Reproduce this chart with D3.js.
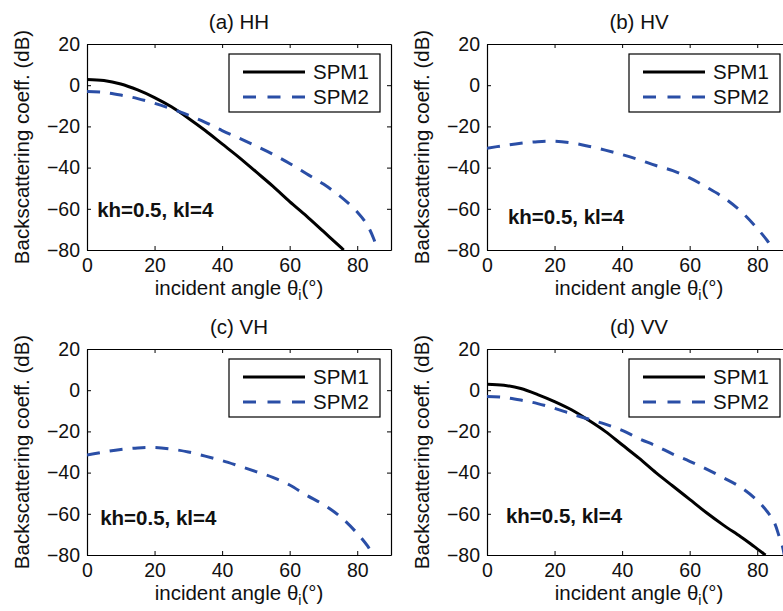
<!DOCTYPE html>
<html>
<head>
<meta charset="utf-8">
<script src="https://cdn.jsdelivr.net/npm/d3@7"></script>
<style>
  body { margin: 0; background: #fff; }
  svg { display: block; font-family: "Liberation Sans", Arial, sans-serif; }
</style>
</head>
<body>
<div id="chart"></div>
<script>
// [incident angle (deg), backscattering coeff (dB)]
const hhSPM1 = [[0,2.8],[5,2.3],[10,0.6],[15,-2.3],[20,-6],[25,-10.5],[30,-16],[35,-22],[40,-28.5],
  [45,-35],[50,-42],[55,-49],[60,-56.5],[65,-63.5],[70,-71],[75,-78.5],[76,-80]];
const hhSPM2 = [[0,-3],[5,-3.5],[10,-4.8],[15,-6.5],[20,-8.8],[25,-11.5],[30,-14.5],[35,-18],[40,-22],
  [45,-25.7],[50,-29.5],[55,-33.5],[60,-38],[65,-43],[70,-48],[75,-54],[80,-61.5],[83,-68],[85,-75],[86,-80]];
const hvSPM2 = [[0,-30.6],[5,-29.3],[10,-28.2],[15,-27.4],[20,-27.2],[25,-28],[30,-29.6],[35,-31.5],[40,-33.7],
  [45,-36.2],[50,-39],[55,-41.5],[60,-45],[65,-49.5],[70,-54.5],[75,-61],[80,-69.5],[83,-75.5],[85,-80]];
const vhSPM2 = [[0,-31.5],[5,-30],[10,-28.8],[15,-28],[20,-27.8],[25,-28.6],[30,-30],[35,-32],[40,-34.2],
  [45,-36.8],[50,-39.5],[55,-42.3],[60,-46],[65,-51],[70,-55.5],[75,-61.4],[80,-69.5],[83,-75.5],[84.7,-80]];
const vvSPM1 = [[0,2.9],[5,2.4],[10,0.8],[15,-2.1],[20,-5.5],[25,-9.5],[30,-14.5],[35,-20],[40,-26.5],
  [45,-33],[50,-40],[55,-46.5],[60,-53],[65,-59.5],[70,-65.5],[75,-71],[78,-74.5],[80,-77],[82,-79.5],[82.5,-80]];
const vvSPM2 = [[0,-3],[5,-3.5],[10,-4.8],[15,-6.5],[20,-8.8],[25,-11.5],[30,-14],[35,-16.5],[40,-19.5],
  [45,-23.5],[50,-27],[55,-31],[60,-34.5],[65,-38.3],[70,-42.5],[75,-47],[80,-53.5],[83,-59],[85,-64],[86.5,-71],[87.5,-76],[88,-80]];

const titles = ["(a) HH", "(b) HV", "(c) VH", "(d) VV"];
const seriesNames = ["SPM1", "SPM2"];
const xTicks = [0, 20, 40, 60, 80];
const yTicks = [-80, -60, -40, -20, 0, 20];
const noteText = "kh=0.5, kl=4";
const notePos = [[3, -60.5], [6.2, -63.8], [3.9, -62], [5.6, -61]];

const width = 783, height = 611;
const plotW = 304, plotH = 206;
const fontSize = 20.5;
const tickFont = 19.5;
const blue = "#2a4ea6";

const svg = d3.select("#chart").append("svg")
  .attr("width", width)
  .attr("height", height);

const layout = [
  {left: 87, top: 44, s1: hhSPM1, s2: hhSPM2},
  {left: 487, top: 44, s1: [], s2: hvSPM2},
  {left: 87, top: 349, s1: [], s2: vhSPM2},
  {left: 487, top: 349, s1: vvSPM1, s2: vvSPM2}
];

let x = d3.scaleLinear().domain([0, 90]).range([0, plotW]);
let y = d3.scaleLinear().domain([-80, 20]).range([plotH, 0]);

let line = d3.line()
  .x(d => x(d[0]))
  .y(d => y(d[1]))
  .curve(d3.curveCatmullRom.alpha(0.5));

layout.forEach((p, i) => {
  let g = svg.append("g").attr("transform", `translate(${p.left},${p.top})`);

  g.append("clipPath").attr("id", "clip" + i)
    .append("rect").attr("width", plotW).attr("height", plotH);

  // axes on all four sides, ticks pointing inward
  let ax = [
    g.append("g").attr("transform", `translate(0,${plotH})`)
      .call(d3.axisBottom(x).tickValues(xTicks).tickSizeInner(-4).tickSizeOuter(0).tickPadding(8)),
    g.append("g")
      .call(d3.axisTop(x).tickValues(xTicks).tickSizeInner(-4).tickSizeOuter(0).tickFormat("")),
    g.append("g")
      .call(d3.axisLeft(y).tickValues(yTicks).tickSizeInner(-4).tickSizeOuter(0).tickPadding(7)),
    g.append("g").attr("transform", `translate(${plotW},0)`)
      .call(d3.axisRight(y).tickValues(yTicks).tickSizeInner(-4).tickSizeOuter(0).tickFormat(""))
  ];
  ax.forEach(a => {
    a.select(".domain").attr("stroke", "#000").attr("stroke-width", 1.2);
    a.selectAll(".tick line").attr("stroke", "#000");
    a.selectAll("text").attr("font-size", tickFont).attr("fill", "#111")
      .attr("font-family", "Liberation Sans, Arial, sans-serif");
  });

  // title
  g.append("text")
    .attr("x", plotW / 2).attr("y", -15)
    .attr("text-anchor", "middle")
    .attr("font-size", fontSize).attr("fill", "#111")
    .text(titles[i]);

  // x label
  let xl = g.append("text")
    .attr("x", plotW / 2).attr("y", plotH + 45)
    .attr("text-anchor", "middle")
    .attr("font-size", fontSize).attr("fill", "#111");
  xl.append("tspan").text("incident angle  \u03b8");
  xl.append("tspan").attr("font-size", 14).attr("dy", 5).text("i");
  xl.append("tspan").attr("dy", -5).text("(\u00b0)");

  // y label
  g.append("text")
    .attr("transform", `translate(-58,${plotH / 2}) rotate(-90)`)
    .attr("text-anchor", "middle")
    .attr("font-size", fontSize).attr("fill", "#111")
    .text("Backscattering coeff. (dB)");

  // curves
  let curves = g.append("g").attr("clip-path", `url(#clip${i})`);
  if (p.s1.length) {
    curves.append("path").datum(p.s1)
      .attr("d", line)
      .attr("fill", "none").attr("stroke", "#000").attr("stroke-width", 3);
  }
  curves.append("path").datum(p.s2)
    .attr("d", line)
    .attr("fill", "none").attr("stroke", blue).attr("stroke-width", 3)
    .attr("stroke-dasharray", "13,10");

  // note
  g.append("text")
    .attr("x", x(notePos[i][0])).attr("y", y(notePos[i][1]) + 7)
    .attr("font-size", fontSize).attr("font-weight", "bold").attr("fill", "#111")
    .text(noteText);

  // legend
  let lg = g.append("g").attr("transform", `translate(${plotW - 162},10)`);
  lg.append("rect")
    .attr("width", 151).attr("height", 58)
    .attr("fill", "#fff").attr("stroke", "#000").attr("stroke-width", 1.2);
  seriesNames.forEach((name, k) => {
    let ly = 18 + k * 25;
    lg.append("line")
      .attr("x1", 14).attr("x2", 76).attr("y1", ly).attr("y2", ly)
      .attr("stroke", k === 0 ? "#000" : blue).attr("stroke-width", 3)
      .attr("stroke-dasharray", k === 0 ? null : "13,11.5");
    lg.append("text")
      .attr("x", 84).attr("y", ly + 7)
      .attr("font-size", fontSize).attr("fill", "#111")
      .text(name);
  });
});
</script>
</body>
</html>
